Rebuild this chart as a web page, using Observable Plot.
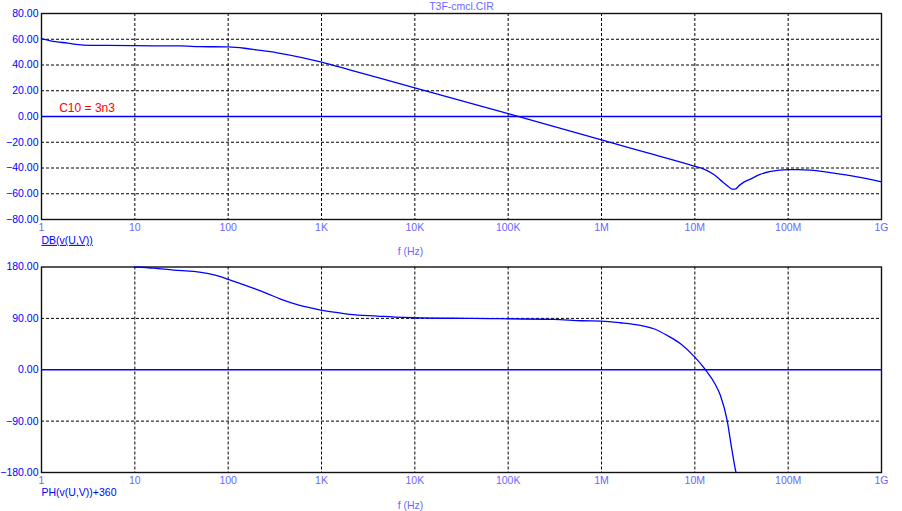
<!DOCTYPE html>
<html>
<head>
<meta charset="utf-8">
<script src="https://cdn.jsdelivr.net/npm/d3@7"></script>
<script src="https://cdn.jsdelivr.net/npm/@observablehq/plot@0.6"></script>
<style>
  html, body { margin: 0; padding: 0; background: #fff; }
  #chart svg { display: block; font-family: "Liberation Sans", Arial, sans-serif; background: none; overflow: visible; }
</style>
</head>
<body>
<div id="chart"></div>
<script>
// ---- data ----
const title = "T3F-cmcl.CIR";
const xTickValues = [1, 10, 100, 1e3, 1e4, 1e5, 1e6, 1e7, 1e8, 1e9];
const xTickLabels = ["1", "10", "100", "1K", "10K", "100K", "1M", "10M", "100M", "1G"];
const gridX = [10, 100, 1e3, 1e4, 1e5, 1e6, 1e7, 1e8];
const magTicks = [80, 60, 40, 20, 0, -20, -40, -60, -80];
const magGrid = [60, 40, 20, -20, -40, -60];
const phTicks = [180, 90, 0, -90, -180];
const phGrid = [90, -90];

const magFreq = [1, 1.25, 1.9, 2.8, 5, 10, 30, 50, 100, 150, 200, 335, 600, 1000, 2000, 1e4, 1e5, 1e6, 3.2e6, 1e7, 1.25e7, 1.6e7, 2e7, 2.3e7, 2.5e7, 2.7e7, 3e7, 3.35e7, 4e7, 5e7, 6.5e7, 1e8, 1.3e8, 1.86e8, 3.1e8, 5.9e8, 1e9];
const magDb   = [60.5, 58.8, 57, 55.5, 55.2, 55, 54.8, 54.3, 54, 53, 51.8, 49.5, 46, 42.2, 36.2, 22.3, 2.2, -18.1, -28.5, -38.7, -40.8, -45, -51, -54.5, -56.4, -56.4, -53.5, -51, -48.4, -45, -42.7, -41.2, -41.3, -41.8, -44, -47.2, -50.7];

const phFreq = [10, 16, 26.2, 42.8, 59.6, 82.8, 100, 135.6, 188, 262, 364, 596, 762, 1020, 1355, 2000, 3950, 7620, 1e4, 4.1e4, 3.08e5, 6.21e5, 1e6, 1.6e6, 2.62e6, 3.64e6, 5.06e6, 7.03e6, 1e7, 1.3e7, 1.64e7, 1.88e7, 2.22e7, 2.47e7, 2.73e7, 2.76e7];
const phDeg  = [180, 178, 174.5, 172.2, 168.7, 163, 158.5, 151, 142.5, 133.5, 123.8, 112.5, 108.4, 103.9, 101, 96.9, 94, 91.6, 91.1, 89.9, 88.1, 85.8, 85.2, 82.3, 77.6, 71.8, 60.1, 45.5, 22.1, 0, -24.5, -45, -88.8, -135.6, -176.4, -180];

const magData = magFreq.map((f, i) => ({f, v: magDb[i]}));
const phData = phFreq.map((f, i) => ({f, v: phDeg[i]}));

// ---- styles ----
const BLUE = "#0000ff";
const LIGHT = "#6868ff";
const FS = 10.5;
const fmt = d3.format(".2f");

function panel({height, marginTop, marginBottom, yDomain, yTicks, yGrid, data, yLabel, labelDy, fDy, extra}) {
  return Plot.plot({
    width: 902,
    height,
    marginTop,
    marginBottom,
    marginLeft: 41,
    marginRight: 21,
    x: {type: "log", domain: [1, 1e9], axis: null},
    y: {domain: yDomain, axis: null},
    marks: [
      Plot.ruleX(gridX, {x: d => d, stroke: "#000", strokeWidth: 1, strokeDasharray: "3,2"}),
      Plot.ruleY(yGrid, {y: d => d, stroke: "#000", strokeWidth: 1, strokeDasharray: "3,2"}),
      Plot.ruleY([0], {stroke: BLUE, strokeWidth: 1.4}),
      Plot.frame({stroke: "#111", strokeWidth: 1.4}),
      Plot.line(data, {x: "f", y: "v", stroke: BLUE, strokeWidth: 1.3, curve: "monotone-x"}),
      Plot.text(yTicks, {y: d => d, text: d => fmt(d), frameAnchor: "left", dx: -3, textAnchor: "end", lineAnchor: "middle", fill: BLUE, fontSize: FS}),
      Plot.text(xTickValues, {x: d => d, text: (d, i) => xTickLabels[i], frameAnchor: "bottom", lineAnchor: "middle", dy: 7.7, fill: LIGHT, fontSize: FS}),
      Plot.text([yLabel], {text: d => d, frameAnchor: "bottom-left", lineAnchor: "middle", dy: labelDy, textAnchor: "start", fill: BLUE, fontSize: FS}),
      Plot.text(["f (Hz)"], {text: d => d, frameAnchor: "bottom", lineAnchor: "middle", dx: -51, dy: fDy, fill: LIGHT, fontSize: FS}),
      ...extra
    ]
  });
}

const magPanel = panel({
  height: 255, marginTop: 13, marginBottom: 36,
  yDomain: [-80, 80], yTicks: magTicks, yGrid: magGrid, data: magData,
  yLabel: "DB(v(U,V))", labelDy: 21, fDy: 32.5,
  extra: [
    Plot.text([title], {text: d => d, frameAnchor: "top", lineAnchor: "middle", dy: -6.6, fill: LIGHT, fontSize: FS}),
    Plot.text(["C10 = 3n3"], {text: d => d, frameAnchor: "left", lineAnchor: "middle", dx: 17.7, dy: -8.3, textAnchor: "start", fill: "#ff0000", fontSize: 12})
  ]
});

const phPanel = panel({
  height: 256, marginTop: 11.5, marginBottom: 39,
  yDomain: [-180, 180], yTicks: phTicks, yGrid: phGrid, data: phData,
  yLabel: "PH(v(U,V))+360", labelDy: 20, fDy: 33.5,
  extra: []
});

const chart = document.getElementById("chart");
chart.appendChild(magPanel);
chart.appendChild(phPanel);

d3.select(magPanel).selectAll("text").filter(function() { return this.textContent === "DB(v(U,V))"; })
  .style("text-decoration", "underline");
</script>
</body>
</html>
